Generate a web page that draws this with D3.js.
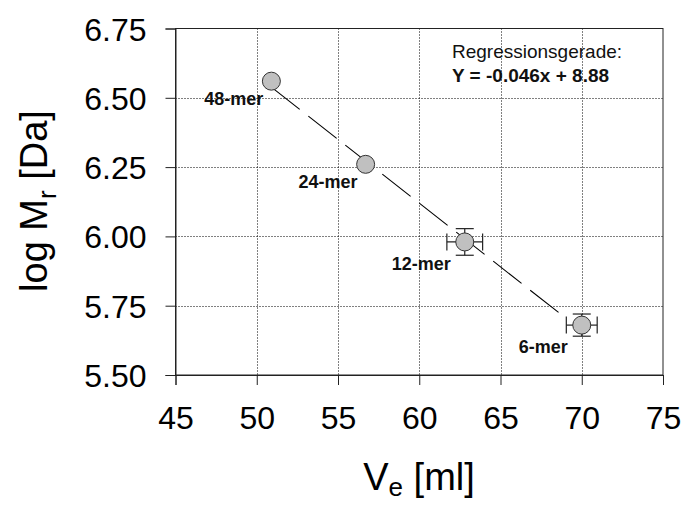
<!DOCTYPE html>
<html><head><meta charset="utf-8">
<script src="https://cdn.jsdelivr.net/npm/d3@7"></script>
<style>
html,body{margin:0;padding:0;background:#fff;}
svg{display:block;font-family:"Liberation Sans",Arial,sans-serif;}
</style></head>
<body>
<svg id="chart" width="685" height="505"></svg>
<script>
// Data
const labels = ["48-mer", "24-mer", "12-mer", "6-mer"];
const ve = [50.9, 56.7, 62.8, 70.0];
const logMr = [6.56, 6.26, 5.98, 5.68];
const veErr = [0, 0, 1.1, 0.95];
const logErr = [0, 0, 0.048, 0.04];
const xTicks = [45, 50, 55, 60, 65, 70, 75];
const yTicks = [5.50, 5.75, 6.00, 6.25, 6.50, 6.75];
const slope = -0.046, intercept = 8.88;
const fitRange = [50.9, 68.7];

const svg = d3.select("#chart");
const m = {left: 175.5, right: 663, top: 28.5, bottom: 375};
const x = d3.scaleLinear().domain([45, 75]).range([m.left, m.right]);
const y = d3.scaleLinear().domain([5.5, 6.75]).range([m.bottom, m.top]);

// grid
const g = svg.append("g");
g.selectAll(".vg").data(xTicks.slice(1, -1)).enter().append("line")
  .attr("x1", d => Math.round(x(d)) + 0.5).attr("x2", d => Math.round(x(d)) + 0.5)
  .attr("y1", m.top).attr("y2", m.bottom)
  .attr("stroke", "#000").attr("stroke-width", 1).attr("stroke-dasharray", "1,2");
g.selectAll(".hg").data(yTicks.slice(1, -1)).enter().append("line")
  .attr("y1", d => Math.round(y(d)) + 0.5).attr("y2", d => Math.round(y(d)) + 0.5)
  .attr("x1", m.left).attr("x2", m.right)
  .attr("stroke", "#000").attr("stroke-width", 1).attr("stroke-dasharray", "1,2");

// frame
svg.append("rect").attr("x", m.left).attr("y", m.top)
  .attr("width", m.right - m.left).attr("height", m.bottom - m.top)
  .attr("fill", "none").attr("stroke", "#222").attr("stroke-width", 1);

// axes
const xAxis = svg.append("g").attr("transform", `translate(0,${m.bottom})`)
  .call(d3.axisBottom(x).tickValues(xTicks).tickFormat(d3.format("d")).tickSize(10).tickPadding(21));
const yAxis = svg.append("g").attr("transform", `translate(${m.left},0)`)
  .call(d3.axisLeft(y).tickValues(yTicks).tickFormat(d3.format(".2f")).tickSize(10).tickPadding(19));
[xAxis, yAxis].forEach(a => {
  a.select(".domain").attr("stroke", "#222");
  a.selectAll(".tick line").attr("stroke", "#222");
  a.selectAll("text").attr("fill", "#000").style("font-size", "32px")
    .style("font-family", "'Liberation Sans', Arial, sans-serif");
});
yAxis.selectAll("text").attr("dy", "0.36em");

// regression line
const line = d3.line().x(d => x(d)).y(d => y(slope * d + intercept));
svg.append("path").datum(fitRange).attr("d", line)
  .attr("fill", "none").attr("stroke", "#000").attr("stroke-width", 1.1)
  .attr("stroke-dasharray", "36,11");

// error bars
const eb = svg.append("g").attr("stroke", "#222").attr("stroke-width", 1.2);
labels.forEach((l, i) => {
  if (veErr[i] > 0) {
    const x0 = x(ve[i] - veErr[i]), x1 = x(ve[i] + veErr[i]), cy = y(logMr[i]);
    eb.append("line").attr("x1", x0).attr("x2", x1).attr("y1", cy).attr("y2", cy);
    eb.append("line").attr("x1", x0).attr("x2", x0).attr("y1", cy - 8.5).attr("y2", cy + 8.5);
    eb.append("line").attr("x1", x1).attr("x2", x1).attr("y1", cy - 8.5).attr("y2", cy + 8.5);
  }
  if (logErr[i] > 0) {
    const y0 = y(logMr[i] - logErr[i]), y1 = y(logMr[i] + logErr[i]), cx = x(ve[i]);
    eb.append("line").attr("x1", cx).attr("x2", cx).attr("y1", y0).attr("y2", y1);
    eb.append("line").attr("x1", cx - 9).attr("x2", cx + 9).attr("y1", y0).attr("y2", y0);
    eb.append("line").attr("x1", cx - 9).attr("x2", cx + 9).attr("y1", y1).attr("y2", y1);
  }
});

// points
svg.selectAll(".pt").data(labels).enter().append("circle")
  .attr("cx", (d, i) => x(ve[i])).attr("cy", (d, i) => y(logMr[i])).attr("r", 9)
  .attr("fill", "#c0c0c0").attr("stroke", "#333").attr("stroke-width", 1);

// point labels
svg.selectAll(".pl").data(labels).enter().append("text")
  .attr("x", (d, i) => x(ve[i]) - (veErr[i] > 0 ? 14 : 8))
  .attr("y", (d, i) => y(logMr[i]) + (logErr[i] > 0 ? 28 : 24))
  .attr("text-anchor", "end").style("font-size", "18px").style("font-weight", "bold")
  .attr("fill", "#111").text(d => d);

// annotation
svg.append("text").attr("x", 452).attr("y", 58).style("font-size", "19px")
  .attr("fill", "#111").text("Regressionsgerade:");
svg.append("text").attr("x", 452).attr("y", 82).style("font-size", "19px").style("font-weight", "bold")
  .attr("fill", "#111").text("Y = -0.046x + 8.88");

// axis titles
const xt = svg.append("text").attr("x", 419).attr("y", 490).attr("text-anchor", "middle")
  .style("font-size", "38px").attr("fill", "#000");
xt.append("tspan").text("V");
xt.append("tspan").attr("dy", 6).style("font-size", "26px").text("e");
xt.append("tspan").attr("dy", -6).text(" [ml]");

const yt = svg.append("text").attr("transform", "translate(47,201) rotate(-90)")
  .attr("text-anchor", "middle").style("font-size", "38px").attr("fill", "#000");
yt.append("tspan").text("log M");
yt.append("tspan").attr("dy", 9).style("font-size", "26px").text("r");
yt.append("tspan").attr("dy", -9).text(" [Da]");
</script>
</body></html>
